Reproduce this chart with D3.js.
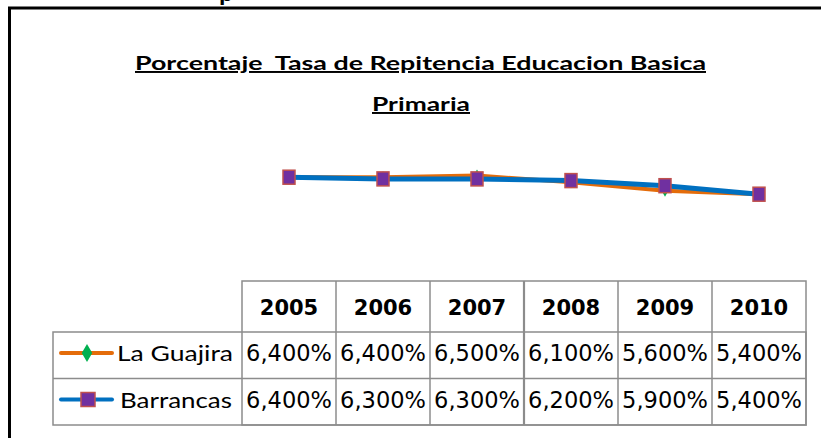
<!DOCTYPE html>
<html>
<head>
<meta charset="utf-8">
<script src="https://cdn.jsdelivr.net/npm/d3@7"></script>
<style>
  body { margin: 0; background: #fff; }
  svg { display: block; }
</style>
</head>
<body>
<div id="chart"></div>
<script>
const years = ["2005", "2006", "2007", "2008", "2009", "2010"];
const guajira = [6.4, 6.4, 6.5, 6.1, 5.6, 5.4];
const barrancas = [6.4, 6.3, 6.3, 6.2, 5.9, 5.4];
const seriesNames = ["La Guajira", "Barrancas"];

const width = 821, height = 438;

const svg = d3.select("#chart").append("svg")
  .attr("width", width)
  .attr("height", height);

// outer frame (right/bottom fall outside the picture)
svg.append("rect")
  .attr("x", 9.5).attr("y", 8)
  .attr("width", 900).attr("height", 600)
  .attr("fill", "none")
  .attr("stroke", "#000")
  .attr("stroke-width", 3);

// bit of the text above the frame
svg.append("text")
  .attr("x", 219).attr("y", 1)
  .attr("font-family", "Lato, sans-serif")
  .attr("font-weight", "bold")
  .attr("font-size", 26)
  .text("p");

// title, stretched like the original
const title = svg.append("g")
  .attr("font-family", "Lato, 'Open Sans', sans-serif")
  .attr("font-weight", "bold")
  .attr("font-size", 19.5)
  .attr("text-anchor", "middle")
  .attr("text-decoration", "underline");
title.append("text").attr("x", 420.5).attr("y", 70)
  .attr("xml:space", "preserve")
  .attr("textLength", 571)
  .attr("lengthAdjust", "spacingAndGlyphs")
  .text("Porcentaje  Tasa de Repitencia Educacion Basica");
title.append("text").attr("x", 421).attr("y", 111)
  .attr("textLength", 98)
  .attr("lengthAdjust", "spacingAndGlyphs")
  .text("Primaria");

// scales
const x = d3.scaleBand().domain(years).range([242, 806]);
const cx = d => x(d) + x.bandwidth() / 2;
const y = d3.scaleLinear().domain([0, 8]).range([286, 150]);

const line = d3.line()
  .x((d, i) => cx(years[i]))
  .y(d => y(d));

// La Guajira
svg.append("path")
  .datum(guajira)
  .attr("d", line)
  .attr("fill", "none")
  .attr("stroke", "#E46C0A")
  .attr("stroke-width", 4);

const diamond = d3.symbol().type(d3.symbolDiamond).size(40);
svg.selectAll(".dg")
  .data(guajira)
  .join("path")
  .attr("class", "dg")
  .attr("d", diamond)
  .attr("transform", (d, i) => `translate(${cx(years[i])},${y(d)})`)
  .attr("fill", "#00B050");

// Barrancas
svg.append("path")
  .datum(barrancas)
  .attr("d", line)
  .attr("fill", "none")
  .attr("stroke", "#0070C0")
  .attr("stroke-width", 5);

svg.selectAll(".sq")
  .data(barrancas)
  .join("rect")
  .attr("class", "sq")
  .attr("x", (d, i) => cx(years[i]) - 6)
  .attr("y", d => y(d) - 7)
  .attr("width", 12)
  .attr("height", 14)
  .attr("fill", "#7030A0")
  .attr("stroke", "#C0504D")
  .attr("stroke-width", 1.5);

// data table
const rowTop = 281, headH = 51, rowH = 46.5;
const grid = svg.append("g")
  .attr("stroke", "#8c8c8c")
  .attr("stroke-width", 1.5)
  .attr("fill", "none");

grid.append("rect")
  .attr("x", 242).attr("y", rowTop)
  .attr("width", 806 - 242).attr("height", headH + 2 * rowH);
grid.append("rect")
  .attr("x", 53).attr("y", rowTop + headH)
  .attr("width", 806 - 53).attr("height", 2 * rowH);
grid.append("line")
  .attr("x1", 53).attr("x2", 806)
  .attr("y1", rowTop + headH + rowH).attr("y2", rowTop + headH + rowH);
grid.selectAll(".vl")
  .data(years.slice(1))
  .join("line")
  .attr("class", "vl")
  .attr("x1", d => x(d)).attr("x2", d => x(d))
  .attr("y1", rowTop).attr("y2", rowTop + headH + 2 * rowH)
  .attr("stroke-width", d => d === "2008" ? 2.2 : 1.5);

// header
svg.selectAll(".yr")
  .data(years)
  .join("text")
  .attr("class", "yr")
  .attr("x", d => cx(d))
  .attr("y", rowTop + 34)
  .attr("text-anchor", "middle")
  .attr("font-family", "'DejaVu Sans', sans-serif")
  .attr("font-weight", "bold")
  .attr("font-size", 21)
  .text(d => d);

const fmt = v => d3.format(".3f")(v).replace(".", ",") + "%";
const rows = [guajira, barrancas];
const labelLen = [116, 112];

rows.forEach((vals, r) => {
  const base = rowTop + headH + rowH * r;
  svg.selectAll(".v" + r)
    .data(vals)
    .join("text")
    .attr("x", (d, i) => cx(years[i]))
    .attr("y", base + 29)
    .attr("text-anchor", "middle")
    .attr("font-family", "'DejaVu Sans', sans-serif")
    .attr("font-size", 22.5)
    .text(d => fmt(d));

  svg.append("text")
    .attr("x", r === 0 ? 117 : 120)
    .attr("y", base + 29)
    .attr("font-family", "Lato, sans-serif")
    .attr("font-size", 22)
    .attr("textLength", labelLen[r])
    .attr("lengthAdjust", "spacingAndGlyphs")
    .text(seriesNames[r]);

  const ly = base + 21;
  svg.append("line")
    .attr("x1", 61).attr("x2", 112)
    .attr("y1", ly).attr("y2", ly)
    .attr("stroke", r === 0 ? "#E46C0A" : "#0070C0")
    .attr("stroke-width", 4)
    .attr("stroke-linecap", "round");
  if (r === 0) {
    svg.append("path")
      .attr("d", d3.symbol().type(d3.symbolDiamond).size(95))
      .attr("transform", `translate(87,${ly})`)
      .attr("fill", "#00B050");
  } else {
    svg.append("rect")
      .attr("x", 81).attr("y", ly - 7)
      .attr("width", 14).attr("height", 14)
      .attr("fill", "#7030A0")
      .attr("stroke", "#C0504D")
      .attr("stroke-width", 1.5);
  }
});
</script>
</body>
</html>
